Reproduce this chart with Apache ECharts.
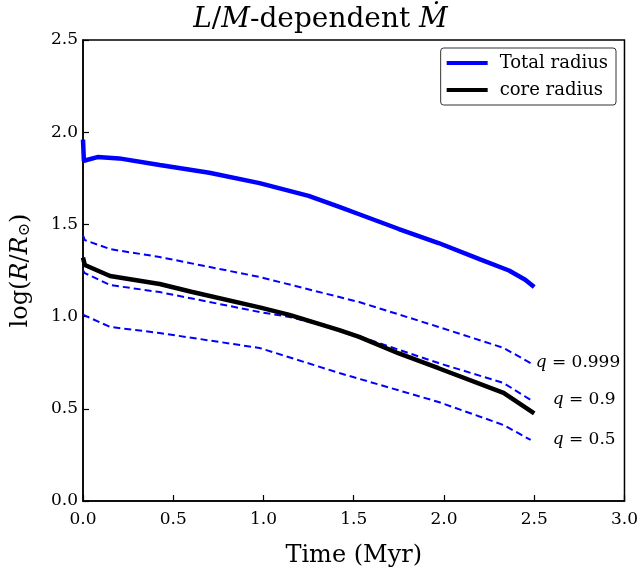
<!DOCTYPE html>
<html>
<head>
<meta charset="utf-8">
<script src="https://cdn.jsdelivr.net/npm/echarts@6/dist/echarts.min.js"></script>
<style>html,body{margin:0;padding:0;background:#fff}#c{width:641px;height:573px}</style>
</head>
<body>
<div id="c"></div>
<script>
// Data (time in Myr, log R/Rsun)
const totalRadius = [[0,1.96],[0.005,1.845],[0.08,1.865],[0.2,1.858],[0.425,1.822],[0.7,1.78],[0.978,1.724],[1.25,1.655],[1.42,1.595],[1.53,1.555],[1.75,1.475],[1.97,1.399],[2.2,1.31],[2.36,1.25],[2.45,1.2],[2.5,1.16]];
const coreRadius = [[0,1.32],[0.01,1.28],[0.15,1.22],[0.425,1.177],[0.6,1.135],[0.978,1.05],[1.144,1.009],[1.42,0.927],[1.53,0.89],[1.75,0.80],[1.97,0.72],[2.33,0.586],[2.5,0.475]];
const q999 = [[0,1.44],[0.01,1.415],[0.15,1.366],[0.425,1.323],[0.978,1.215],[1.42,1.106],[1.53,1.079],[1.97,0.944],[2.33,0.83],[2.48,0.748]];
const q09 = [[0,1.25],[0.01,1.236],[0.15,1.171],[0.425,1.133],[0.978,1.025],[1.144,0.998],[1.42,0.93],[1.75,0.82],[1.97,0.748],[2.33,0.64],[2.48,0.548]];
const q05 = [[0,1.01],[0.01,1.0],[0.15,0.944],[0.425,0.911],[0.978,0.83],[1.42,0.694],[1.97,0.537],[2.33,0.412],[2.48,0.331]];
const qLabels = ['0.999','0.9','0.5'];
const xTicks = {min:0, max:3, interval:0.5};
const yTicks = {min:0, max:2.5, interval:0.5};

const serif = 'DejaVu Serif';
const chart = echarts.init(document.getElementById('c'), null, {renderer:'canvas'});
function dashed(name, data, label, dist){
  return {
    name, type:'line', data, showSymbol:false, symbol:'none', z:2,
    lineStyle:{color:'#0000ff', width:2, type:[7,4]},
    endLabel:{show:true, distance:dist, formatter:'{q|q} = ' + label,
      fontFamily:serif, fontSize:17, color:'#000',
      rich:{q:{fontStyle:'italic', fontFamily:serif, fontSize:17}}},
    silent:true
  };
}
chart.setOption({
  animation:false,
  backgroundColor:'#fff',
  title:{
    text:'{i|L}/{i|M}-dependent {i|Ṁ}',
    left:'center', top:1,
    textStyle:{fontFamily:serif, fontSize:28, fontWeight:'normal', color:'#000',
      rich:{i:{fontStyle:'italic', fontFamily:serif, fontSize:28}}}
  },
  legend:{
    data:['Total radius','core radius'],
    orient:'vertical', right:25, top:48,
    itemWidth:41, itemHeight:4, itemGap:9, icon:'rect',
    padding:[6,8,6,6],
    borderColor:'#333', borderWidth:1, borderRadius:3,
    textStyle:{fontFamily:serif, fontSize:18, color:'#000', padding:[0,0,0,7]}
  },
  grid:{left:83, right:15, top:40, bottom:72, show:true, borderColor:'#000', borderWidth:1.5, backgroundColor:'transparent'},
  xAxis:{
    type:'value', min:xTicks.min, max:xTicks.max, interval:xTicks.interval,
    name:'Time (Myr)', nameLocation:'middle', nameGap:43,
    nameTextStyle:{fontFamily:serif, fontSize:24, color:'#000'},
    axisLine:{show:true, lineStyle:{color:'#000', width:1.5}},
    axisTick:{show:true, inside:true, length:6, lineStyle:{color:'#000', width:1.2}},
    axisLabel:{fontFamily:serif, fontSize:17, color:'#000', margin:10, formatter:v=>v.toFixed(1)},
    splitLine:{show:false}
  },
  yAxis:{
    type:'value', min:yTicks.min, max:yTicks.max, interval:yTicks.interval,
    name:'log({i|R}/{i|R}{s|⊙})', nameLocation:'middle', nameGap:50, nameRotate:90,
    nameTextStyle:{fontFamily:serif, fontSize:24, color:'#000',
      rich:{i:{fontStyle:'italic', fontFamily:serif, fontSize:24}, s:{fontFamily:serif, fontSize:16, verticalAlign:'bottom', padding:[9,0,0,0]}}},
    axisLine:{show:true, lineStyle:{color:'#000', width:1.5}},
    axisTick:{show:true, inside:true, length:6, lineStyle:{color:'#000', width:1.2}},
    axisLabel:{fontFamily:serif, fontSize:17, color:'#000', margin:5, formatter:v=>v.toFixed(1)},
    splitLine:{show:false}
  },
  series:[
    {name:'Total radius', type:'line', data:totalRadius, showSymbol:false, symbol:'none', z:3,
      itemStyle:{color:'#0000ff'}, lineStyle:{color:'#0000ff', width:4.5}},
    {name:'core radius', type:'line', data:coreRadius, showSymbol:false, symbol:'none', z:3,
      itemStyle:{color:'#000'}, lineStyle:{color:'#000', width:4.5}},
    dashed('q999', q999, qLabels[0], 5),
    dashed('q09', q09, qLabels[1], 22),
    dashed('q05', q05, qLabels[2], 22)
  ]
});
</script>
</body>
</html>
